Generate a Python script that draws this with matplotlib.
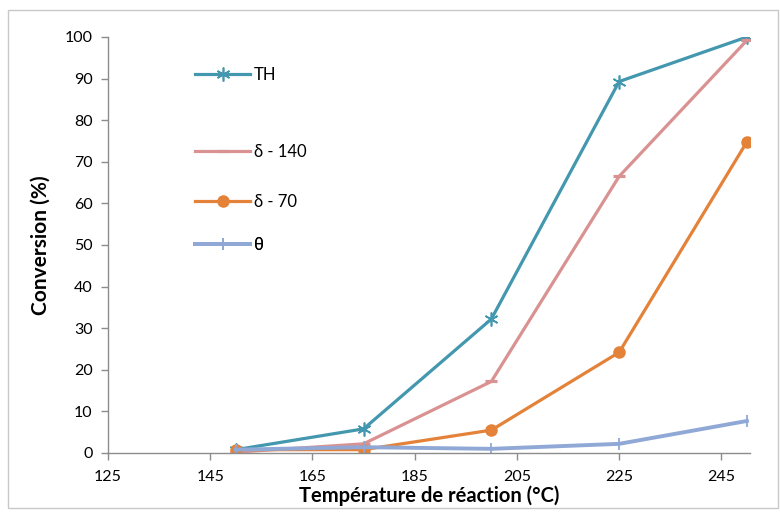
import matplotlib.pyplot as plt
from matplotlib.patches import Rectangle

plt.rcParams['font.family'] = ['Lato', 'DejaVu Sans']

# reaction temperature (°C)
temps = [150, 175, 200, 225, 250]

conv_th = [0.8, 5.8, 32.2, 89.3, 100.0]
conv_d140 = [0.2, 2.2, 17.2, 66.5, 99.2]
conv_d70 = [0.8, 0.8, 5.5, 24.2, 74.8]
conv_theta = [0.8, 1.4, 1.0, 2.2, 7.7]

labels = ['TH', 'δ - 140', 'δ - 70', 'θ']
colors = ['#4397AE', '#D99291', '#E4823A', '#8FA8D6']

xticks = [125, 145, 165, 185, 205, 225, 245]
yticks = list(range(0, 101, 10))

fig = plt.figure(figsize=(7.8, 5.12), dpi=100)
ax = fig.add_axes([108 / 780, 1 - 453 / 512, 642 / 780, 416 / 512])

# outer chart frame
fig.patches.append(Rectangle((8 / 780, 4 / 512), 770 / 780, 498 / 512,
                             transform=fig.transFigure, fill=False,
                             edgecolor='#C8C8C8', lw=1))

l_th, = ax.plot(temps, conv_th, color=colors[0], lw=2.3,
                marker=(6, 2, 0), ms=10, mew=1.2)
l_d140, = ax.plot(temps, conv_d140, color=colors[1], lw=2.3,
                  marker='_', ms=8, mew=2.3)
l_d70, = ax.plot(temps, conv_d70, color=colors[2], lw=2.3,
                 marker='o', ms=8)
l_theta, = ax.plot(temps, conv_theta, color=colors[3], lw=2.8,
                   marker='|', ms=9, mew=1.3)

ax.set_xlim(125, 250.6)
ax.set_ylim(0, 100)
ax.set_xticks(xticks)
ax.set_yticks(yticks)

for side in ['top', 'right']:
    ax.spines[side].set_visible(False)
for side in ['left', 'bottom']:
    ax.spines[side].set_color('#8C8C8C')
    ax.spines[side].set_linewidth(1)
ax.tick_params(axis='both', direction='out', length=5, width=1,
               color='#8C8C8C', labelsize=11.5, labelcolor='black')
ax.tick_params(axis='x', pad=7)
ax.tick_params(axis='y', pad=6)

ax.set_xlabel('Température de réaction (°C)', fontsize=14.5, fontweight='bold',
              labelpad=1)
ax.set_ylabel('Conversion (%)', fontsize=15, fontweight='bold', labelpad=10)

# legend entries placed one by one (uneven spacing in the original)
legend_y = [75, 152, 202, 245]
for line, lab, yp in zip([l_th, l_d140, l_d70, l_theta], labels, legend_y):
    leg = ax.legend([line], [lab], loc='center left',
                    bbox_to_anchor=(195 / 780, 1 - yp / 512),
                    bbox_transform=fig.transFigure, frameon=False,
                    handlelength=3.3, handletextpad=0.25, fontsize=12,
                    borderaxespad=0, borderpad=0)
    ax.add_artist(leg)

fig.savefig('out.png', dpi=100)
